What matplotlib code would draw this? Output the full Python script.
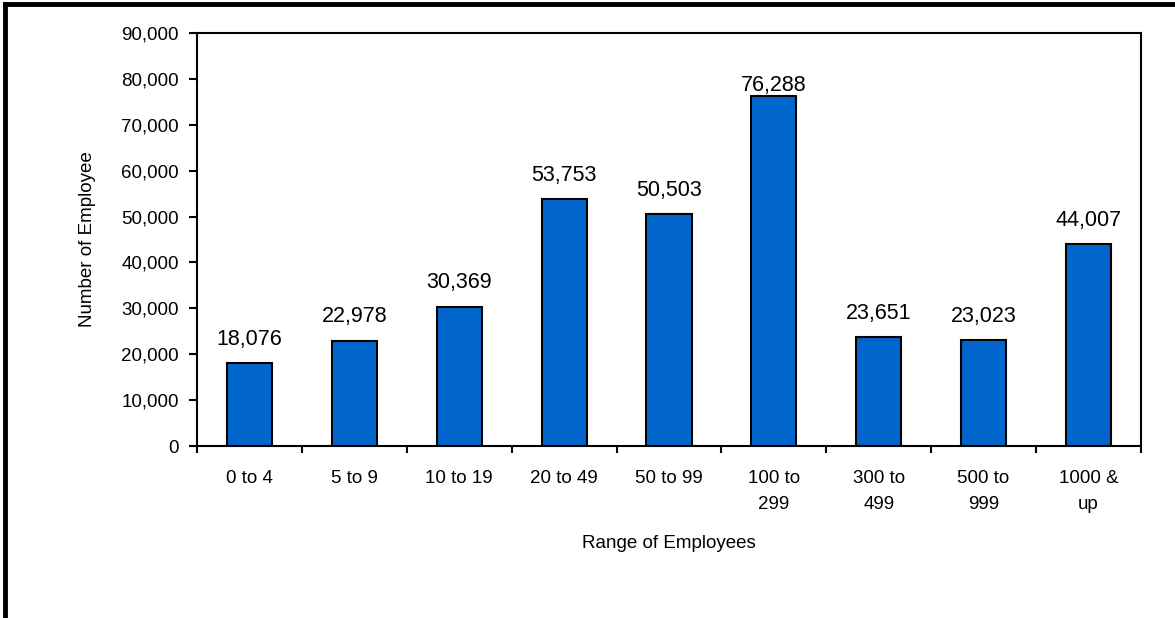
import matplotlib.pyplot as plt
from matplotlib.lines import Line2D
from matplotlib.ticker import FuncFormatter, FixedLocator
import numpy as np

ranges = ["0 to 4", "5 to 9", "10 to 19", "20 to 49", "50 to 99",
          "100 to\n299", "300 to\n499", "500 to\n999", "1000 &\nup"]
employees = [18076, 22978, 30369, 53753, 50503, 76288, 23651, 23023, 44007]

plt.rcParams['font.family'] = ['Liberation Sans', 'DejaVu Sans']

fig = plt.figure(figsize=(11.75, 6.18), dpi=100)
ax = fig.add_axes([0.1677, 0.2783, 0.8033, 0.6683])

x = np.arange(len(ranges))
ax.bar(x, employees, width=0.43, color="#0066CC", edgecolor="black", linewidth=1.5)

for xi, val in zip(x, employees):
    # tallest bar gets a tighter label so it stays clear of the frame
    off = 0 if val == max(employees) else 9.5
    ax.annotate(f"{val:,}", (xi, val), xytext=(0, off), textcoords="offset points",
                ha="center", va="bottom", fontsize=15.5)

ax.set_xlim(-0.5, len(ranges) - 0.5)
ax.set_ylim(0, 90000)
ax.set_yticks(np.arange(0, 90001, 10000))
ax.yaxis.set_major_formatter(FuncFormatter(lambda v, p: f"{int(v):,}"))
ax.set_xticks(x)
ax.set_xticklabels(ranges, linespacing=1.7, va="top")
ax.xaxis.set_minor_locator(FixedLocator(np.arange(-0.5, len(ranges), 1)))

ax.tick_params(axis="x", which="major", length=0, pad=17, labelsize=13.5)
ax.tick_params(axis="x", which="minor", length=5, width=1.5, direction="out")
ax.tick_params(axis="y", length=6, width=1.5, pad=7, labelsize=13.5)

for s in ax.spines.values():
    s.set_linewidth(1.5)

ax.set_xlabel("Range of Employees", fontsize=13.5, labelpad=16)
ax.set_ylabel("Number of Employee", fontsize=13.5, labelpad=18)

# heavy frame along the top and left edges of the figure
fig.add_artist(Line2D([0.0045, 1], [0.9935, 0.9935], color="black", linewidth=3.5,
                      transform=fig.transFigure))
fig.add_artist(Line2D([0.0045, 0.0045], [0, 0.9935], color="black", linewidth=3.5,
                      transform=fig.transFigure))

fig.savefig("out.png", dpi=100)
